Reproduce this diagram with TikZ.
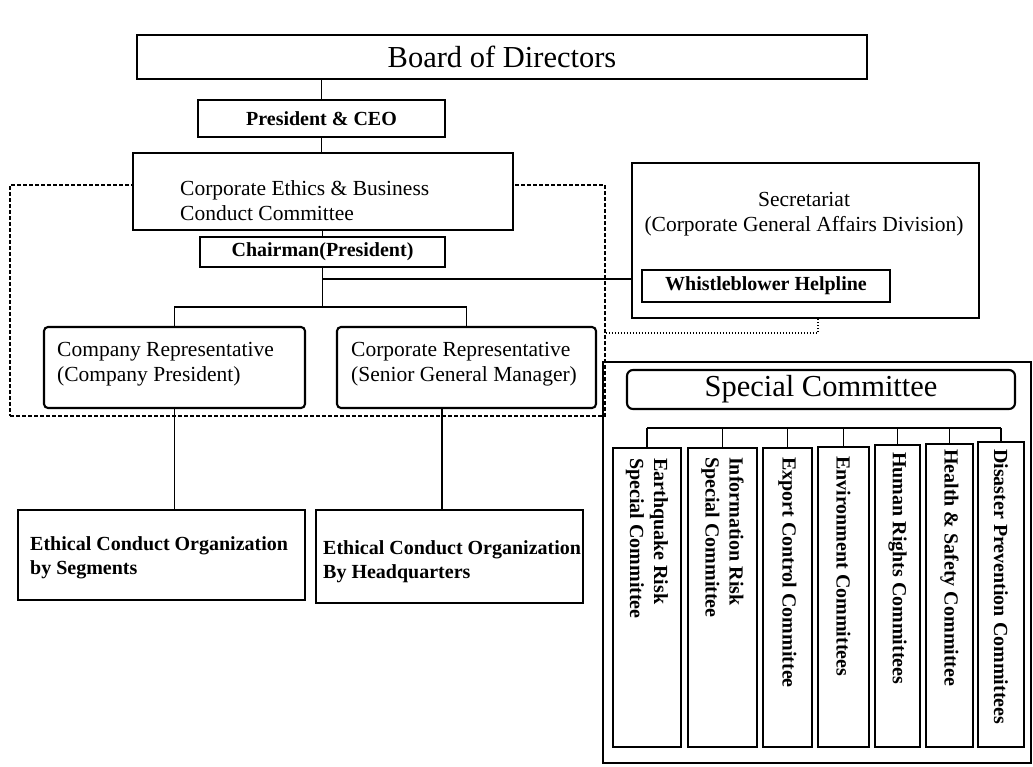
\documentclass[tikz,border=0pt]{standalone}
\usepackage{fontspec}
\setmainfont{Liberation Serif}
\usetikzlibrary{calc}
\newcommand\fsBig{\fontsize{30.5}{35}\selectfont}
\newcommand\fsReg{\fontsize{21.5}{25}\selectfont}
\newcommand\fsBold{\fontsize{20}{24}\selectfont\bfseries}
\begin{document}
\begin{tikzpicture}[x=1pt,y=-1pt,
  box/.style={draw, line width=2.1pt, inner sep=0pt, fill=white},
  rbox/.style={box, rounded corners=4pt},
  link/.style={line width=1.8pt},
  dashbox/.style={draw, line width=1.7pt, dash pattern=on 4pt off 2pt, inner sep=0pt},
  dotlink/.style={line width=1.5pt, dash pattern=on 1.5pt off 1.5pt},
  txt/.style={inner sep=0pt, align=left, anchor=west},
  ctext/.style={inner sep=0pt, align=left, anchor=west, rotate=-90, font=\fsBold}]
\useasboundingbox (0,0) rectangle (1033,766);
% dashed frame of the ethics committee
\node[dashbox, minimum width=595pt, minimum height=231pt] (ethics) at (307.5,300.5) {};
% main chain
\node[box, minimum width=730pt, minimum height=44pt, font=\fsBig] (board) at (502,57) {Board of Directors};
\node[box, minimum width=247pt, minimum height=37pt, font=\fsBold] (pres) at (321.5,118.5) {President \& CEO};
\node[box, minimum width=380pt, minimum height=77pt] (cebc) at (323,191.5) {};
\node[txt, font=\fsReg] (cebct) at (180,201) {Corporate Ethics \& Business\\Conduct Committee};
\node[box, minimum width=245pt, minimum height=30pt, font=\fsBold] (chair) at (322.5,252) {Chairman(President)};
% representatives
\node[rbox, minimum width=261pt, minimum height=81pt] (crep) at (174.5,367.5) {};
\node[txt, font=\fsReg] (crept) at (57,364) {Company Representative\\(Company President)};
\node[rbox, minimum width=259pt, minimum height=81pt] (corp) at (466.5,367.5) {};
\node[txt, font=\fsReg] (corpt) at (351,364) {Corporate Representative\\(Senior General Manager)};
% ethical conduct organizations
\node[box, minimum width=287pt, minimum height=90pt] (eseg) at (161.5,555) {};
\node[txt, font=\fsBold] (esegt) at (30,558) {Ethical Conduct Organization\\by Segments};
\node[box, minimum width=267pt, minimum height=93pt] (ehq) at (449.5,556.5) {};
\node[txt, font=\fsBold] (ehqt) at (323,562) {Ethical Conduct Organization\\By Headquarters};
% secretariat
\node[box, minimum width=347pt, minimum height=155pt] (sec) at (805.5,240.5) {};
\node[inner sep=0pt, align=center, font=\fsReg] (sect) at (804,214) {Secretariat\\(Corporate General Affairs Division)};
\node[box, minimum width=248pt, minimum height=32pt, font=\fsBold] (whistle) at (766,286) {Whistleblower Helpline};
% special committee
\node[box, fill=none, minimum width=428pt, minimum height=401pt] (spbox) at (817,562.5) {};
\node[box, rounded corners=6pt, minimum width=388pt, minimum height=39pt, font=\fsBig] (spt) at (821,389.5) {Special Committee};
\node[box, minimum width=68pt, minimum height=299pt] (c1) at (647,597.5) {};
\node[box, minimum width=69pt, minimum height=299pt] (c2) at (722.5,597.5) {};
\node[box, minimum width=49pt, minimum height=299pt] (c3) at (787.5,597.5) {};
\node[box, minimum width=51pt, minimum height=300pt] (c4) at (843.5,597) {};
\node[box, minimum width=45pt, minimum height=302pt] (c5) at (897.5,596) {};
\node[box, minimum width=47pt, minimum height=303pt] (c6) at (949.5,595.5) {};
\node[box, minimum width=46pt, minimum height=305pt] (c7) at (1001,594.5) {};
\node[ctext] (t1) at ([yshift=-11pt]c1.north) {Earthquake Risk\\Special Committee};
\node[ctext] (t2) at ([yshift=-10pt]c2.north) {Information Risk\\Special Committee};
\node[ctext] (t3) at ([yshift=-10pt]c3.north) {Export Control Committee};
\node[ctext] (t4) at ([yshift=-10pt]c4.north) {Environment Committees};
\node[ctext] (t5) at ([yshift=-8pt]c5.north) {Human Rights Committees};
\node[ctext] (t6) at ([yshift=-6pt]c6.north) {Health \& Safety Committee};
\node[ctext] (t7) at ([yshift=-8pt]c7.north) {Disaster Prevention Committees};
% connectors
\draw[link] (pres.north) -- (pres.north |- board.south);
\draw[link] (cebc.north -| pres.south) -- (pres.south);
\draw[link] (chair.north) -- (chair.north |- cebc.south);
\coordinate (brA) at (0,307);
\draw[link] (chair.south) -- (chair.south |- brA);
\draw[link] (crep.north) |- (corp.north |- brA) -- (corp.north);
\coordinate (tap) at ($(chair.south)+(0,11)$);
\draw[link] (tap) -- (tap -| sec.west);
\draw[link] (crep.south) -- (crep.south |- eseg.north);
\draw[link] ([xshift=-24.5pt]corp.south) -- ([xshift=-24.5pt]corp.south |- ehq.north);
\coordinate (dl) at (818,333);
\draw[dotlink] (dl -| ethics.east) -- (dl) -- (dl |- sec.south);
\coordinate (brB) at (0,428);
\draw[link] (c1.north |- brB) -- (c7.north |- brB);
\foreach \i in {1,...,7} { \draw[link] (c\i.north) -- (c\i.north |- brB); }
\end{tikzpicture}
\end{document}
